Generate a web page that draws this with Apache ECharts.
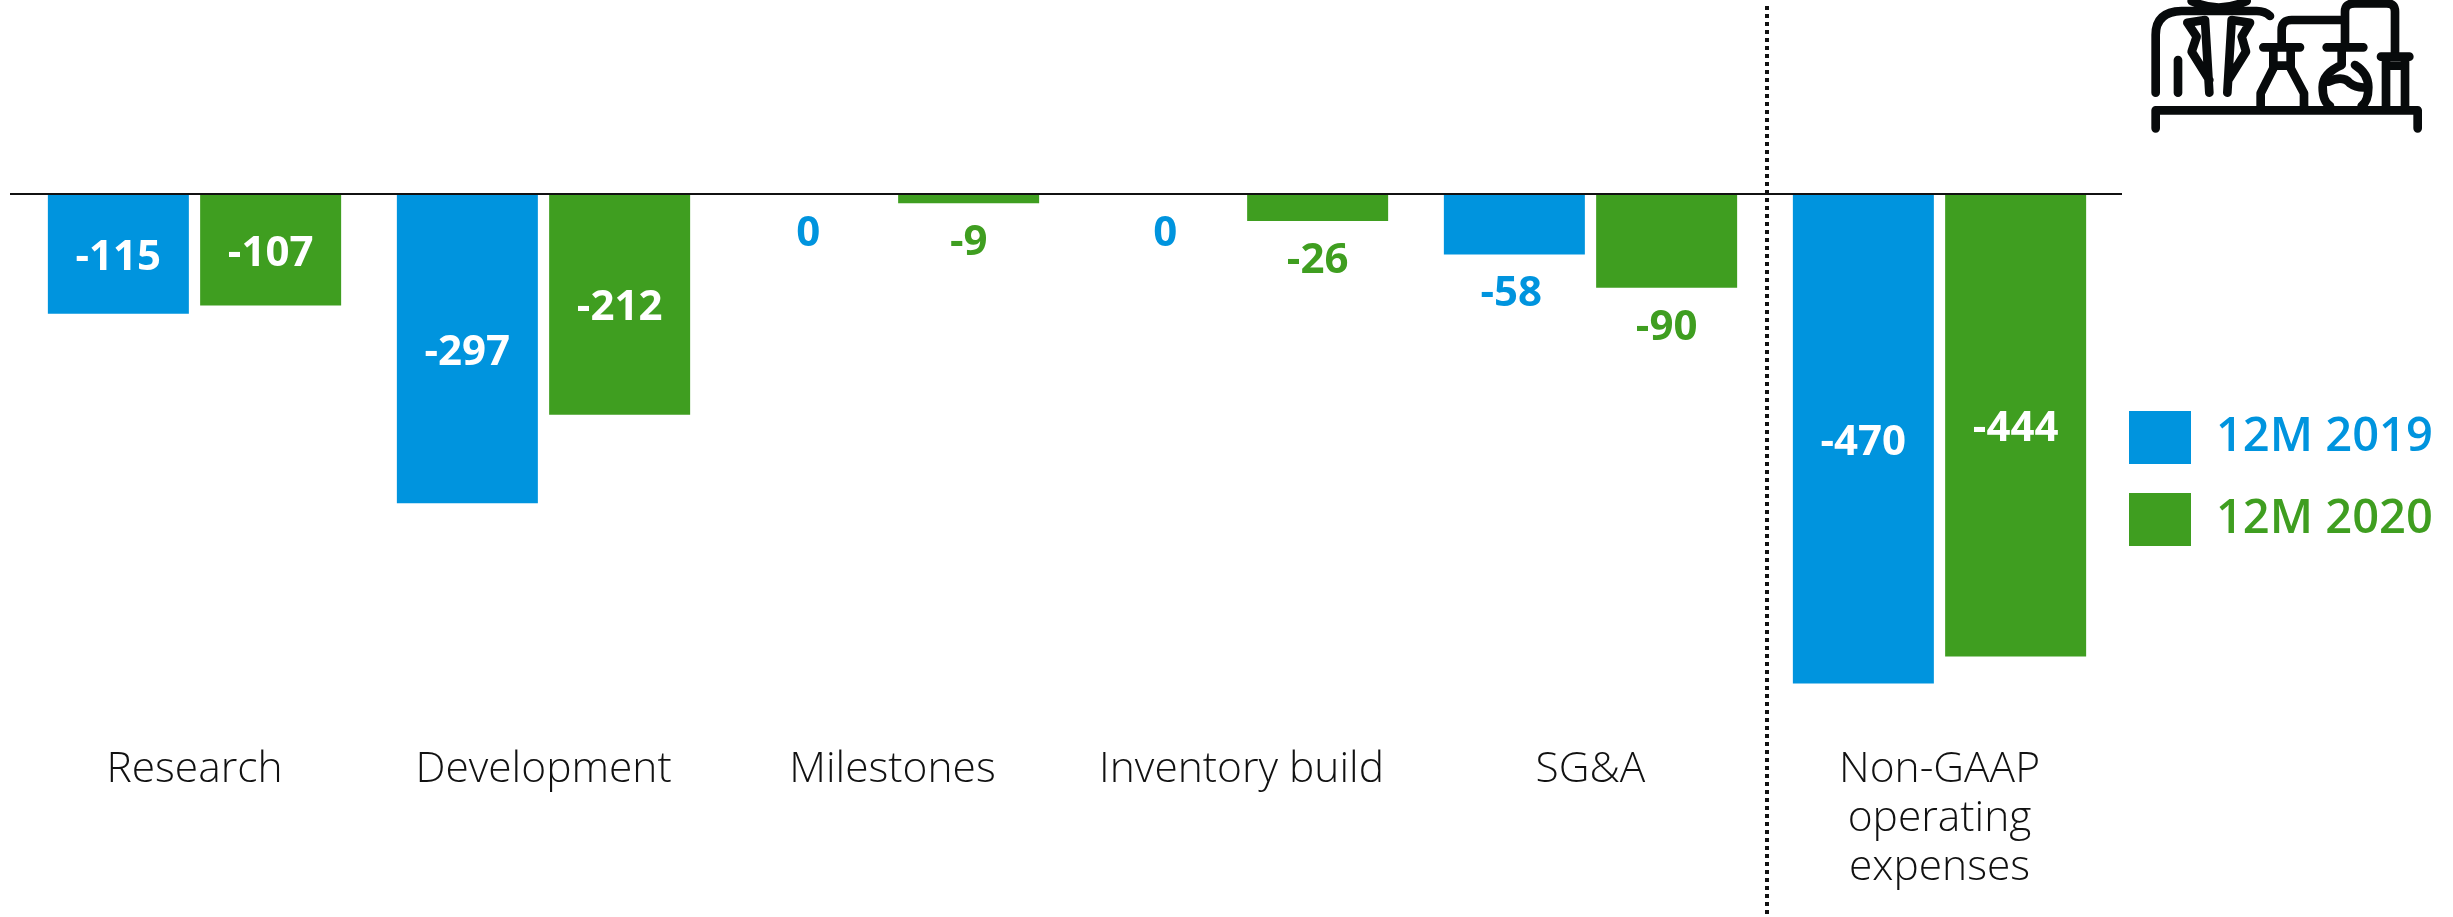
<!DOCTYPE html>
<html>
<head>
<meta charset="utf-8">
<title>Non-GAAP operating expenses</title>
<style>
  html, body { margin: 0; padding: 0; background: #fff; }
  #chart { width: 2453px; height: 917px; }
</style>
<script src="https://cdn.jsdelivr.net/npm/echarts@6/dist/echarts.min.js"></script>
</head>
<body>
<div id="chart"></div>
<script>
const categories = ['Research', 'Development', 'Milestones', 'Inventory build', 'SG&A', 'Non-GAAP\noperating\nexpenses']
const values2019 = [-115, -297, 0, 0, -58, -470]
const values2020 = [-107, -212, -9, -26, -90, -444]
const seriesNames = ['12M 2019', '12M 2020']
const blue = '#0094DE'
const green = '#3F9E20'
const fontFamily = '"Open Sans", "Noto Sans", sans-serif'

// icon strokes, in zoomed up coordinates (3x)
const iconPaths = [
  'M167 385V331H953V385',
  'M167 278V105Q167 35 245 33H470Q495 33 510 48',
  'M275 3Q355 42 440 3',
  'M234 180V278',
  'M328 278L315 60L262 68L290 110L275 155L328 240',
  'M382 278L395 60L450 68L425 110L438 155L385 240',
  'M490 142H600M520 142V205L482 280V318M572 142V205L612 280V318M520 197H572',
  'M545 130V90Q545 60 575 60H735M735 130V35Q735 10 765 10H860Q885 10 885 35V165',
  'M680 142H790M725 142V195Q668 220 668 262Q668 305 690 318M765 195Q805 220 805 262Q805 305 785 318',
  'M685 245Q730 225 750 250Q770 265 800 262',
  'M843 170H928M858 170V318M915 170V318M858 197H915'
]
iconPaths.forEach((d, i) => {
  echarts.graphic.registerShape('icon' + i, echarts.graphic.extendPath(d))
})

function barSeries(name, data, color, nudge) {
  return {
    name,
    type: 'bar',
    barWidth: 141,
    barGap: '8%',
    itemStyle: { color },
    data: data.map((v, i) => ({
      value: v,
      label: Math.abs(v) > 100
        ? { position: 'inside', color: '#fff', offset: [0, 4] }
        : { position: 'bottom', color, distance: 19, offset: [nudge[i] || 0, 0] }
    })),
    label: {
      show: true,
      fontFamily,
      fontSize: 42,
      fontWeight: 'bold'
    }
  }
}

const chart = echarts.init(document.getElementById('chart'))
chart.setOption({
  animation: false,
  backgroundColor: '#fff',
  grid: { left: 20, right: 339, top: 194, height: 520.75 },
  legend: {
    orient: 'vertical',
    left: 2124,
    top: 406,
    itemWidth: 62,
    itemHeight: 53,
    itemGap: 29,
    icon: 'rect',
    selectedMode: false,
    data: [
      { name: seriesNames[0], textStyle: { color: blue } },
      { name: seriesNames[1], textStyle: { color: green } }
    ],
    textStyle: { fontFamily, fontSize: 47, fontWeight: 600, padding: [6, 0, 0, 20] }
  },
  xAxis: {
    type: 'category',
    data: categories,
    position: 'bottom',
    axisLine: { show: false, onZero: false },
    axisTick: { show: false },
    axisLabel: {
      interval: 0,
      margin: 31,
      color: '#111',
      fontFamily,
      fontSize: 42.5,
      fontWeight: 300,
      lineHeight: 49,
      verticalAlign: 'top'
    }
  },
  yAxis: { type: 'value', min: -500, max: 0, show: false },
  series: [
    barSeries(seriesNames[0], values2019, blue, { 2: -8, 4: -3 }),
    barSeries(seriesNames[1], values2020, green, {})
  ]
})

// zero line runs past the plot, divider sits between the last two groups
const zeroY = chart.convertToPixel({ yAxisIndex: 0 }, 0)
const dividerX = (chart.convertToPixel({ xAxisIndex: 0 }, 4) + chart.convertToPixel({ xAxisIndex: 0 }, 5)) / 2 + 2

chart.setOption({
  graphic: [
    {
      type: 'line',
      z: 10,
      shape: { x1: 10, y1: zeroY, x2: 2122, y2: zeroY },
      style: { stroke: '#111', lineWidth: 2 }
    },
    {
      type: 'line',
      z: 10,
      shape: { x1: dividerX, y1: 6, x2: dividerX, y2: 917 },
      style: { stroke: '#111', lineWidth: 4, lineDash: [4, 4] }
    },
    {
      type: 'group',
      x: 2100,
      y: 0,
      scaleX: 1 / 3,
      scaleY: 1 / 3,
      children: iconPaths.map((d, i) => ({
        type: 'icon' + i,
        style: { fill: null, stroke: '#070a0b', lineWidth: 26, lineCap: 'round', lineJoin: 'round' }
      }))
    }
  ]
})
</script>
</body>
</html>
